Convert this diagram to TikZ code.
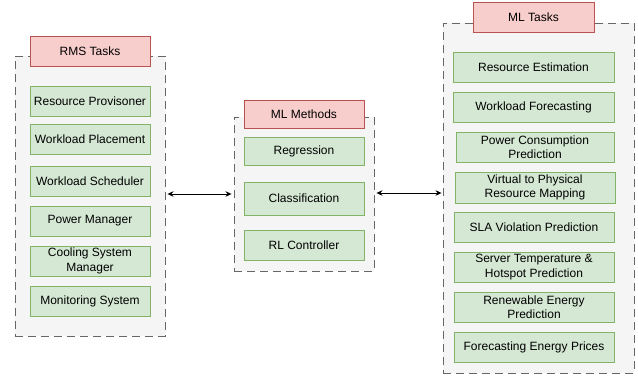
\documentclass[tikz,border=0pt]{standalone}
\usepackage{fontspec}
\setmainfont{Liberation Sans}
\usetikzlibrary{arrows.meta}
\definecolor{gfill}{HTML}{D5E8D4}
\definecolor{gline}{HTML}{82B366}
\definecolor{rfill}{HTML}{F8CECC}
\definecolor{rline}{HTML}{B85450}
\definecolor{cfill}{HTML}{F5F5F5}
\definecolor{cline}{HTML}{666666}
\tikzset{
  wh/.style 2 args={minimum width=#1pt, minimum height=#2pt},
  container/.style={draw=cline, fill=cfill, line width=0.9pt, dash pattern=on 8pt off 5pt, inner sep=0pt},
  titlebox/.style={draw=rline, fill=rfill, line width=0.9pt, inner sep=0pt, align=center,
    font=\fontsize{12}{14}\selectfont},
  task/.style={draw=gline, fill=gfill, line width=0.9pt, inner sep=0pt, align=center,
    font=\fontsize{12}{14.5}\selectfont},
  link/.style={black, line width=0.9pt, {Stealth[length=6pt,width=5.5pt]}-{Stealth[length=6pt,width=5.5pt]}}
}
\begin{document}
\begin{tikzpicture}[x=1pt,y=-1pt]
\useasboundingbox (0,0) rectangle (638,376);

% containers
\node[container, wh={150}{280}] (rms) at (90,196) {};
\node[container, wh={140}{154}] (mlm) at (304,194) {};
\node[container, wh={191}{350}] (mlt) at (538.5,198) {};

% RMS tasks
\node[titlebox, wh={120}{30}] (rmst) at (90,51) {RMS Tasks};
\node[task, wh={120}{30}] (r1) at (90,101) {Resource Provisoner};
\node[task, wh={120}{30}] (r2) at (90,139) {Workload Placement};
\node[task, wh={120}{30}] (r3) at (90,181) {Workload Scheduler};
\node[task, wh={120}{30}] (r4) at (90,221) {Power Manager};
\node[task, wh={120}{30}] (r5) at (90,261) {Cooling System\\Manager};
\node[task, wh={120}{30}] (r6) at (90,301) {Monitoring System};

% ML methods
\node[titlebox, wh={120}{28}] (mlmt) at (304,114.5) {ML Methods};
\node[task, wh={120}{28}] (m1) at (304,151) {Regression};
\node[task, wh={120}{33}] (m2) at (304,198.5) {Classification};
\node[task, wh={120}{30}] (m3) at (304,245) {RL Controller};

% ML tasks
\node[titlebox, wh={121}{30}] (mltt) at (533.5,17) {ML Tasks};
\node[task, wh={161}{30}] (t1) at (533.5,67) {Resource Estimation};
\node[task, wh={161}{30}] (t2) at (533.5,107) {Workload Forecasting};
\node[task, wh={158}{30}] (t3) at (535,147) {Power Consumption\\Prediction};
\node[task, wh={160}{31}] (t4) at (535,187.5) {Virtual to Physical\\Resource Mapping};
\node[task, wh={160}{30}] (t5) at (534,227) {SLA Violation Prediction};
\node[task, wh={160}{30}] (t6) at (534,267) {Server Temperature \&\\Hotspot Prediction};
\node[task, wh={160}{30}] (t7) at (534,307) {Renewable Energy\\Prediction};
\node[task, wh={160}{30}] (t8) at (534,347) {Forecasting Energy Prices};

% links between the groups
\draw[link, shorten <=2pt, shorten >=2pt] (rms.east |- 0,194) -- (mlm.west |- 0,194);
\draw[link, shorten <=2pt, shorten >=1pt] (mlm.east |- 0,193) -- (mlt.west |- 0,193);
\end{tikzpicture}
\end{document}
